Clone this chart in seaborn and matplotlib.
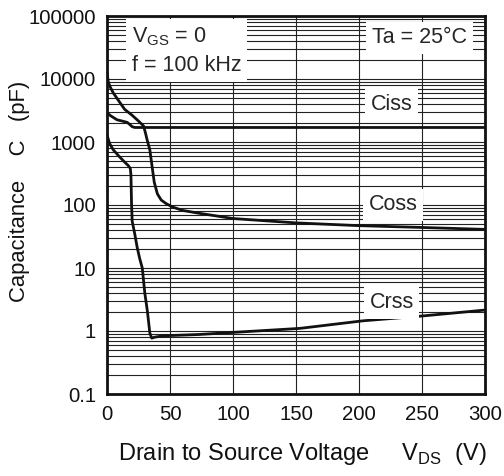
import numpy as np
import pandas as pd
import seaborn as sns
import matplotlib.pyplot as plt
from matplotlib.ticker import LogLocator, FixedLocator, NullFormatter

# Ciss curve
ciss_v = [0, 3, 8, 12, 16, 18, 20, 22, 60, 150, 300]
ciss_c = [2900, 2600, 2250, 2150, 2050, 1900, 1750, 1700, 1700, 1700, 1700]

# Coss curve
coss_v = [0, 1, 2.5, 5, 10, 14, 20, 25, 29, 30.5, 32, 34, 36, 37.5, 40, 43, 47, 52, 60, 73, 100, 150, 200, 250, 300]
coss_c = [13000, 9000, 7500, 6000, 4300, 3300, 2650, 2150, 1800, 1400, 1050, 750, 380, 230, 150, 120, 105, 93, 82, 74, 61, 52, 47, 44, 41]

# Crss curve
crss_v = [0, 2, 5, 10, 14, 17, 18.5, 19, 19.5, 20, 22, 24, 26, 28, 30, 32, 34, 35.5, 38, 45, 73, 100, 153, 203, 250, 300]
crss_c = [1300, 950, 750, 580, 480, 420, 380, 300, 100, 55, 35, 21, 14, 10, 4, 2.1, 0.93, 0.77, 0.8, 0.84, 0.88, 0.95, 1.1, 1.45, 1.73, 2.15]

x_ticks = [0, 50, 100, 150, 200, 250, 300]
y_ticks = [0.1, 1, 10, 100, 1000, 10000, 100000]
y_tick_labels = ["0.1", "1", "10", "100", "1000", "10000", "100000"]

sns.set_theme(style="white")
plt.rcParams['font.family'] = ['Liberation Sans', 'DejaVu Sans']
plt.rcParams['mathtext.fontset'] = 'custom'
plt.rcParams['mathtext.rm'] = 'Liberation Sans'

fig = plt.figure(figsize=(5.04, 4.76), dpi=100)
ax = fig.add_axes([107 / 504, 1 - 394 / 476, 378 / 504, 378 / 476])

for v, c in [(ciss_v, ciss_c), (coss_v, coss_c), (crss_v, crss_c)]:
    sns.lineplot(x=v, y=c, color="#111111", linewidth=2.0, sort=False, estimator=None, ax=ax, zorder=5)

ax.set_yscale("log")
ax.set_xlim(0, 300)
ax.set_ylim(0.1, 100000)

# grid: decades plus 2..9 on y, every 50 V on x
ax.xaxis.set_major_locator(FixedLocator(x_ticks))
ax.yaxis.set_major_locator(FixedLocator(y_ticks))
ax.yaxis.set_minor_locator(LogLocator(base=10, subs=np.arange(2, 10), numticks=20))
ax.yaxis.set_minor_formatter(NullFormatter())
ax.set_xticklabels([str(t) for t in x_ticks])
ax.set_yticklabels(y_tick_labels)
ax.grid(True, which="major", axis="both", color="#222222", linewidth=0.8)
ax.grid(True, which="minor", axis="y", color="#222222", linewidth=0.8)
ax.tick_params(axis="both", which="both", length=0, labelsize=14.7, colors="#111111")
ax.tick_params(axis="x", pad=8)
ax.tick_params(axis="y", pad=8)

for side in ax.spines.values():
    side.set_color("#111111")
    side.set_linewidth(2.0)
    side.set_zorder(6)

ax.set_ylabel("Capacitance    C   (pF)", fontsize=15.8, color="#111111")
ax.yaxis.label.set_verticalalignment("center")
ax.yaxis.set_label_coords(-0.232, 0.535)
ax.set_xlabel("Drain to Source Voltage     V$_{\\mathregular{DS}}$  (V)", fontsize=17, color="#111111")
ax.xaxis.label.set_verticalalignment("center")
ax.xaxis.set_label_coords(0.516, -0.159)

box = dict(facecolor="white", edgecolor="none", pad=4)
ax.text(19.5, 28000, "V$_{\\mathregular{GS}}$ = 0\nf = 100 kHz", fontsize=15.5, ha="left", va="center",
        linespacing=1.45, bbox=box, zorder=7)
ax.text(248, 45000, "Ta = 25°C", fontsize=15.5, ha="center", va="center", bbox=box, zorder=7)
ax.text(226, 4000, "Ciss", fontsize=15.5, ha="center", va="center", bbox=box, zorder=7)
ax.text(227, 100, "Coss", fontsize=15.5, ha="center", va="center", bbox=box, zorder=7)
ax.text(226, 2.83, "Crss", fontsize=15.5, ha="center", va="center", bbox=box, zorder=7)

fig.savefig("out.png", dpi=100)
